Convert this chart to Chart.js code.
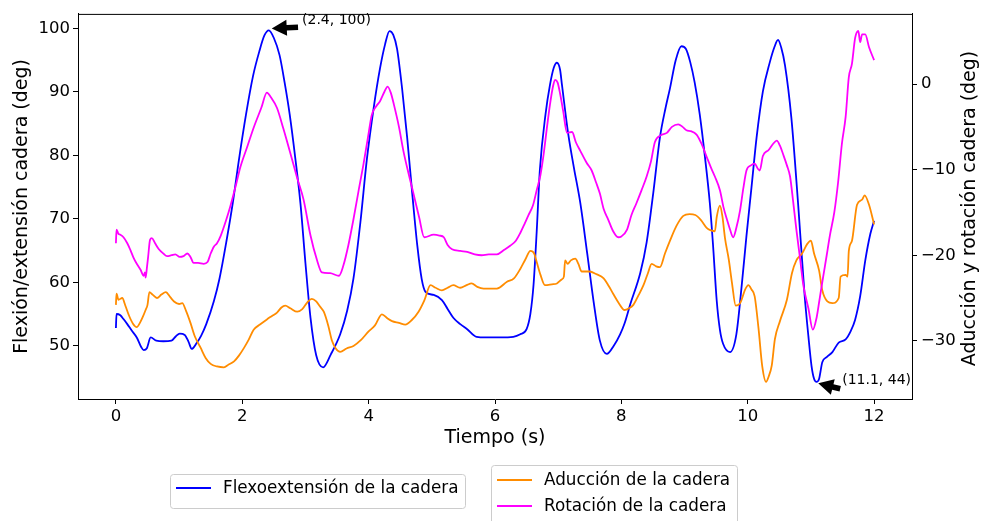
<!DOCTYPE html>
<html>
<head>
<meta charset="utf-8">
<script src="https://cdn.jsdelivr.net/npm/chart.js@4.4.1/dist/chart.umd.min.js"></script>
<style>
  html, body { margin: 0; padding: 0; background: #fff; }
  canvas { display: block; }
</style>
</head>
<body>
<canvas id="chart" width="985" height="521"></canvas>
<script>
// tiempo (s) y valores
const flexT = [0.00,0.01,0.07,0.12,0.18,0.25,0.33,0.40,0.44,0.49,0.55,0.64,0.75,0.88,0.95,1.01,1.09,1.15,1.20,1.27,1.35,1.43,1.55,1.64,1.75,1.85,1.95,2.06,2.17,2.27,2.35,2.42,2.50,2.59,2.67,2.75,2.84,2.92,3.00,3.08,3.17,3.28,3.40,3.55,3.66,3.76,3.87,3.97,4.08,4.18,4.26,4.33,4.39,4.45,4.53,4.61,4.69,4.77,4.84,4.90,5.03,5.16,5.25,5.34,5.45,5.56,5.71,5.85,6.08,6.29,6.40,6.50,6.56,6.61,6.66,6.71,6.80,6.87,6.93,6.98,7.03,7.06,7.16,7.25,7.35,7.46,7.56,7.66,7.77,7.88,7.98,8.05,8.14,8.30,8.40,8.51,8.61,8.70,8.77,8.86,8.95,9.02,9.09,9.16,9.24,9.32,9.40,9.45,9.51,9.56,9.61,9.72,9.82,9.90,9.98,10.06,10.14,10.24,10.35,10.42,10.48,10.53,10.59,10.69,10.80,10.90,10.96,11.01,11.05,11.09,11.13,11.18,11.25,11.34,11.44,11.55,11.63,11.70,11.78,11.86,11.94,12.00];
const flexV = [52.8,55.0,54.8,54.2,53.4,52.4,51.3,49.8,49.3,49.6,51.3,50.8,50.7,50.8,51.5,51.9,51.7,50.6,49.5,50.3,51.6,53.4,57.0,60.6,66.5,72.5,79.5,86.5,92.5,96.4,98.9,99.7,98.5,95.8,91.5,86.5,79.5,72.5,63.0,54.4,48.5,46.6,48.6,51.8,55.5,60.6,69.5,79.2,87.5,93.7,97.5,99.6,99.0,96.8,90.5,82.8,74.0,65.8,60.5,58.5,58.0,57.2,55.8,54.4,53.4,52.6,51.4,51.3,51.3,51.4,51.8,52.6,55.0,59.6,68.0,77.7,86.5,91.1,93.8,94.6,93.5,91.1,83.3,78.0,72.5,64.5,57.0,50.8,48.7,50.0,51.8,53.5,56.5,61.5,66.3,74.5,82.8,87.5,90.6,95.0,97.2,96.8,94.7,91.5,86.5,80.0,72.5,66.0,57.0,52.5,50.3,49.0,51.8,59.0,67.3,75.0,82.8,90.1,94.7,97.0,98.2,97.0,94.2,86.0,72.0,58.0,51.5,46.8,44.8,44.3,44.8,47.4,48.2,49.0,50.5,51.0,52.3,54.1,57.8,63.4,67.6,69.7];

const aducT = [0.00,0.01,0.04,0.10,0.15,0.21,0.27,0.33,0.38,0.42,0.47,0.50,0.53,0.58,0.65,0.72,0.79,0.86,0.92,1.00,1.05,1.11,1.18,1.25,1.34,1.42,1.50,1.60,1.71,1.78,1.87,1.95,2.03,2.10,2.18,2.28,2.39,2.47,2.55,2.62,2.68,2.76,2.87,2.95,3.03,3.10,3.17,3.23,3.29,3.36,3.42,3.48,3.55,3.65,3.76,3.88,4.00,4.10,4.21,4.30,4.37,4.48,4.58,4.68,4.79,4.88,4.98,5.06,5.16,5.25,5.34,5.45,5.55,5.63,5.72,5.82,6.03,6.19,6.30,6.40,6.48,6.56,6.62,6.66,6.72,6.79,6.90,6.98,7.06,7.09,7.11,7.15,7.20,7.27,7.32,7.37,7.50,7.60,7.72,7.80,7.87,7.96,8.05,8.12,8.19,8.27,8.35,8.42,8.48,8.55,8.61,8.69,8.77,8.87,8.98,9.08,9.17,9.26,9.35,9.42,9.48,9.51,9.56,9.60,9.64,9.70,9.75,9.81,9.88,9.96,10.01,10.06,10.11,10.17,10.23,10.29,10.33,10.38,10.43,10.51,10.62,10.70,10.77,10.86,10.94,11.00,11.05,11.13,11.18,11.26,11.34,11.44,11.47,11.55,11.58,11.60,11.65,11.73,11.81,11.85,11.92,12.00];
const aducV = [-25.8,-24.5,-25.2,-25.0,-25.9,-27.1,-28.0,-28.4,-27.9,-27.3,-26.4,-25.8,-24.3,-24.6,-25.0,-24.6,-24.3,-24.9,-25.4,-25.7,-25.6,-26.5,-27.9,-29.5,-30.8,-32.0,-32.7,-33.0,-33.1,-32.8,-32.4,-31.7,-30.8,-29.9,-28.7,-28.1,-27.5,-27.1,-26.7,-26.1,-25.9,-26.2,-26.6,-26.3,-25.5,-25.1,-25.4,-26.0,-26.6,-28.2,-30.0,-30.9,-31.3,-30.9,-30.6,-29.9,-28.9,-28.2,-26.9,-27.4,-27.7,-27.9,-28.1,-27.6,-26.6,-25.3,-23.5,-23.8,-24.1,-23.8,-23.5,-23.8,-23.5,-23.3,-23.7,-23.9,-23.9,-23.1,-22.7,-21.6,-20.5,-19.5,-19.8,-20.8,-22.3,-23.5,-23.4,-23.3,-22.8,-22.5,-20.6,-21.0,-20.6,-20.4,-21.0,-21.9,-21.9,-22.2,-22.7,-23.6,-24.5,-25.6,-26.4,-26.2,-25.8,-24.7,-23.5,-22.1,-21.0,-21.3,-21.4,-19.8,-18.3,-16.6,-15.4,-15.2,-15.3,-15.9,-16.8,-17.1,-17.2,-15.5,-14.2,-15.5,-18.0,-20.5,-23.2,-25.9,-25.6,-24.0,-23.5,-24.0,-24.8,-28.5,-33.0,-34.8,-34.2,-32.9,-29.8,-27.7,-25.2,-22.1,-20.6,-19.8,-18.7,-18.3,-19.8,-21.8,-24.1,-25.4,-25.6,-25.0,-22.5,-22.3,-22.5,-19.5,-18.3,-14.1,-13.5,-13.0,-14.1,-16.4];

const rotT = [0.00,0.01,0.04,0.07,0.12,0.18,0.23,0.28,0.33,0.39,0.44,0.46,0.47,0.49,0.51,0.54,0.57,0.62,0.68,0.75,0.81,0.88,0.94,1.01,1.07,1.13,1.18,1.23,1.30,1.39,1.45,1.50,1.55,1.60,1.66,1.74,1.81,1.90,1.97,2.08,2.18,2.30,2.39,2.45,2.55,2.65,2.75,2.87,2.97,3.08,3.18,3.26,3.39,3.53,3.60,3.68,3.76,3.84,3.92,3.99,4.05,4.12,4.18,4.25,4.30,4.35,4.40,4.48,4.55,4.63,4.71,4.80,4.88,5.03,5.12,5.19,5.25,5.32,5.45,5.56,5.68,5.79,5.90,6.03,6.14,6.24,6.33,6.40,6.47,6.53,6.60,6.66,6.72,6.77,6.82,6.87,6.92,6.95,6.99,7.03,7.08,7.14,7.22,7.28,7.35,7.45,7.53,7.60,7.66,7.72,7.79,7.87,7.95,8.00,8.09,8.16,8.24,8.32,8.40,8.47,8.53,8.62,8.72,8.80,8.90,8.97,9.03,9.10,9.19,9.27,9.35,9.42,9.48,9.56,9.62,9.67,9.72,9.77,9.82,9.88,9.93,9.98,10.05,10.11,10.16,10.19,10.24,10.33,10.40,10.46,10.51,10.56,10.62,10.67,10.72,10.77,10.83,10.88,10.96,11.03,11.09,11.14,11.19,11.25,11.30,11.37,11.43,11.49,11.55,11.60,11.65,11.70,11.75,11.78,11.81,11.86,11.92,12.00];
const rotV = [-18.6,-17.0,-17.5,-17.6,-17.9,-18.6,-19.4,-20.3,-21.0,-21.7,-22.4,-22.0,-22.6,-21.5,-20.2,-18.2,-18.0,-18.6,-19.3,-19.8,-20.1,-20.0,-19.9,-20.2,-20.1,-19.8,-20.2,-20.9,-20.9,-21.0,-20.8,-19.8,-19.0,-18.6,-17.7,-16.0,-14.3,-11.8,-9.7,-7.3,-5.1,-2.8,-1.0,-1.5,-2.8,-5.2,-7.8,-11.0,-13.5,-17.7,-20.5,-22.0,-22.1,-22.4,-21.2,-18.8,-15.8,-12.5,-9.3,-6.2,-3.6,-2.6,-2.0,-0.9,-0.3,-1.0,-2.4,-5.0,-7.8,-10.4,-12.8,-15.6,-17.9,-17.6,-17.7,-17.9,-18.8,-19.3,-19.5,-19.6,-19.9,-20.0,-19.9,-19.9,-19.4,-18.9,-18.3,-17.4,-16.3,-15.3,-14.2,-12.4,-10.6,-8.2,-5.2,-2.4,-0.2,0.5,0.2,-1.1,-3.2,-5.7,-5.6,-6.8,-7.8,-9.2,-10.1,-11.5,-12.8,-14.6,-15.8,-17.2,-17.9,-17.8,-17.0,-15.3,-13.9,-12.4,-10.8,-9.0,-6.8,-6.0,-5.7,-5.0,-4.7,-5.0,-5.4,-5.5,-5.9,-7.0,-8.5,-9.8,-10.8,-12.4,-14.5,-15.8,-17.0,-17.9,-16.8,-14.7,-12.2,-10.1,-9.5,-9.3,-9.9,-10.1,-8.4,-7.7,-7.0,-6.6,-7.2,-8.2,-9.5,-10.8,-13.8,-17.0,-20.5,-23.5,-26.2,-28.7,-27.3,-25.0,-22.7,-20.0,-17.7,-15.0,-11.5,-7.0,-3.8,0.8,2.4,5.4,6.2,4.9,5.8,5.8,4.3,2.8];

const xTicks = [0, 2, 4, 6, 8, 10, 12];
const yLeftTicks = [50, 60, 70, 80, 90, 100];
const yRightTicks = [-30, -20, -10, 0];

const seriesNames = ['Flexoextensión de la cadera', 'Aducción de la cadera', 'Rotación de la cadera'];
const seriesColors = ['#0000ff', '#ff8c00', '#ff00ff'];

const annotations = [
  { x: 2.4, y: 100, label: '(2.4, 100)' },
  { x: 11.1, y: 44, label: '(11.1, 44)' }
];

const toPoints = (ts, vs) => ts.map((t, i) => ({ x: t, y: vs[i] }));
const FONT = 'DejaVu Sans';
Chart.defaults.font.family = FONT;
Chart.defaults.color = '#000';

function arrow(ctx, x0, y0, x1, y1){
  // flecha rellena tipo matplotlib: de la cola (x0,y0) a la punta (x1,y1)
  const w = 5.6, hw = 16, hl = 15;
  const len = Math.hypot(x1 - x0, y1 - y0);
  const ux = (x1 - x0) / len, uy = (y1 - y0) / len;
  const nx = -uy, ny = ux;
  const bx = x1 - ux * hl, by = y1 - uy * hl;
  ctx.beginPath();
  ctx.moveTo(x0 + nx * w / 2, y0 + ny * w / 2);
  ctx.lineTo(bx + nx * w / 2, by + ny * w / 2);
  ctx.lineTo(bx + nx * hw / 2, by + ny * hw / 2);
  ctx.lineTo(x1, y1);
  ctx.lineTo(bx - nx * hw / 2, by - ny * hw / 2);
  ctx.lineTo(bx - nx * w / 2, by - ny * w / 2);
  ctx.lineTo(x0 - nx * w / 2, y0 - ny * w / 2);
  ctx.closePath();
  ctx.fill();
}

function legendBox(ctx, x, y, w, h, entries){
  ctx.save();
  ctx.fillStyle = 'rgba(255,255,255,0.8)';
  ctx.strokeStyle = '#cccccc';
  ctx.lineWidth = 1;
  ctx.beginPath();
  ctx.roundRect(x + 0.5, y + 0.5, w, h, 3);
  ctx.fill();
  ctx.stroke();
  ctx.font = '16.8px "' + FONT + '"';
  ctx.textBaseline = 'middle';
  ctx.textAlign = 'left';
  entries.forEach(e => {
    ctx.strokeStyle = seriesColors[e.idx];
    ctx.lineWidth = 1.8;
    ctx.beginPath();
    ctx.moveTo(x + 6, e.y);
    ctx.lineTo(x + 41, e.y);
    ctx.stroke();
    ctx.fillStyle = '#000';
    ctx.fillText(seriesNames[e.idx], x + 53, e.y + 1);
  });
  ctx.restore();
}

const decor = {
  id: 'decor',
  afterDraw(chart){
    const {ctx, chartArea: a, scales} = chart;
    ctx.save();
    // marco superior
    ctx.strokeStyle = '#000';
    ctx.lineWidth = 1;
    ctx.beginPath();
    ctx.moveTo(a.left, a.top + 0.5);
    ctx.lineTo(a.right, a.top + 0.5);
    ctx.stroke();

    // titulo eje derecho (de abajo hacia arriba, como matplotlib)
    ctx.fillStyle = '#000';
    ctx.font = '19px "' + FONT + '"';
    ctx.textAlign = 'center';
    ctx.textBaseline = 'middle';
    ctx.save();
    ctx.translate(970, (a.top + a.bottom) / 2 + 2);
    ctx.rotate(-Math.PI / 2);
    ctx.fillText('Aducción y rotación cadera (deg)', 0, 0);
    ctx.restore();

    // anotaciones
    const offs = [
      { tip: [4.2, 0], tail: [30.5, -1.3], text: [34.5, -8] },
      { tip: [1, -0.5], tail: [23, 5], text: [25, -3] }
    ];
    ctx.font = '14px "' + FONT + '"';
    ctx.textAlign = 'left';
    annotations.forEach((an, i) => {
      const px = scales.x.getPixelForValue(an.x);
      const py = scales.y.getPixelForValue(an.y);
      const o = offs[i];
      ctx.fillStyle = '#000';
      arrow(ctx, px + o.tail[0], py + o.tail[1], px + o.tip[0], py + o.tip[1]);
      ctx.fillText(an.label, px + o.text[0], py + o.text[1]);
    });
    ctx.restore();

    // leyendas
    legendBox(ctx, 170, 474, 295, 34, [{ idx: 0, y: 488 }]);
    legendBox(ctx, 491, 465, 246, 70, [{ idx: 1, y: 480 }, { idx: 2, y: 506 }]);
  }
};

const tickSetter = list => scale => { scale.ticks = list.map(v => ({ value: v })); };
const axisCommon = {
  grid: { drawOnChartArea: false, drawTicks: true, tickLength: 5, tickColor: '#000' },
  border: { display: true, color: '#000', width: 1 },
  ticks: { font: { size: 16.5 }, color: '#000', padding: 3 }
};

new Chart(document.getElementById('chart').getContext('2d'), {
  type: 'line',
  data: {
    datasets: [
      { label: seriesNames[0], data: toPoints(flexT, flexV), yAxisID: 'y', borderColor: seriesColors[0], order: 3 },
      { label: seriesNames[1], data: toPoints(aducT, aducV), yAxisID: 'y2', borderColor: seriesColors[1], order: 2 },
      { label: seriesNames[2], data: toPoints(rotT, rotV), yAxisID: 'y2', borderColor: seriesColors[2], order: 1 }
    ]
  },
  options: {
    responsive: false,
    animation: false,
    devicePixelRatio: 1,
    layout: { padding: { top: 8, left: 0, right: 0, bottom: 0 } },
    elements: {
      point: { radius: 0 },
      line: { borderWidth: 1.8, cubicInterpolationMode: 'monotone', fill: false }
    },
    plugins: { legend: { display: false }, tooltip: { enabled: false } },
    scales: {
      x: {
        ...axisCommon,
        type: 'linear', min: -0.6, max: 12.6,
        afterBuildTicks: tickSetter(xTicks),
        afterFit: s => { s.height = 122; },
        title: { display: true, text: 'Tiempo (s)', font: { size: 19 }, color: '#000', padding: { top: 0, bottom: 72 } }
      },
      y: {
        ...axisCommon,
        position: 'left', min: 41.6, max: 102.3,
        afterBuildTicks: tickSetter(yLeftTicks),
        afterFit: s => { s.width = 78; },
        title: { display: true, text: 'Flexión/extensión cadera (deg)', font: { size: 19 }, color: '#000', padding: { top: 11, bottom: 0 } }
      },
      y2: {
        ...axisCommon,
        position: 'right', min: -36.8, max: 8.2,
        ticks: { ...axisCommon.ticks, padding: 4, callback: v => String(v).replace('-', '\u2212') },
        afterBuildTicks: tickSetter(yRightTicks),
        afterFit: s => { s.width = 73; }
      }
    }
  },
  plugins: [decor]
});
</script>
</body>
</html>
